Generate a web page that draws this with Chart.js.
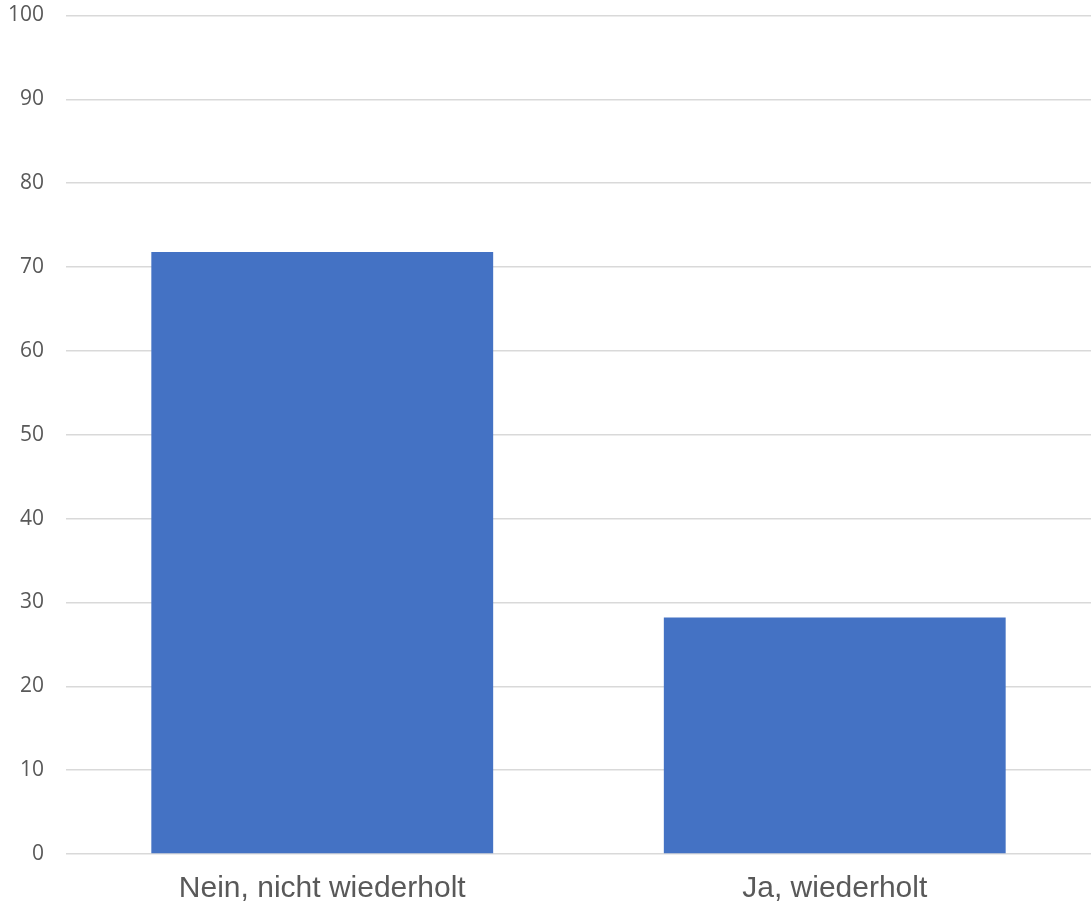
<!DOCTYPE html>
<html>
<head>
<meta charset="utf-8">
<script src="https://cdn.jsdelivr.net/npm/chart.js@4"></script>
<style>
  html, body { margin: 0; padding: 0; background: #ffffff; }
  #wrap { width: 1091px; height: 905px; }
</style>
</head>
<body>
<div id="wrap"><canvas id="c" width="1091" height="905"></canvas></div>
<script>
// Survey answers: was it repeated?
const categories = ['Nein, nicht wiederholt', 'Ja, wiederholt'];
const shares = [71.8, 28.2];
const yTicks = [0, 10, 20, 30, 40, 50, 60, 70, 80, 90, 100];

const ctx = document.getElementById('c').getContext('2d');
new Chart(ctx, {
  type: 'bar',
  data: {
    labels: categories,
    datasets: [{
      data: shares,
      backgroundColor: '#4472c4',
      borderWidth: 0,
      categoryPercentage: 1,
      barPercentage: 0.667
    }]
  },
  options: {
    responsive: false,
    animation: false,
    layout: { padding: { top: 15.5, right: 0, bottom: 0, left: 0 } },
    plugins: {
      legend: { display: false },
      tooltip: { enabled: false }
    },
    scales: {
      x: {
        grid: { display: false, drawTicks: false },
        border: { display: false },
        ticks: {
          color: '#595959',
          padding: 17,
          font: { family: '"Liberation Sans", Arial, sans-serif', size: 30 },
          maxRotation: 0
        },
        afterFit: (s) => { s.height = 51; s.paddingLeft = 0; s.paddingRight = 0; }
      },
      y: {
        min: 0,
        max: 100,
        afterBuildTicks: (s) => { s.ticks = yTicks.map(v => ({ value: v })); },
        grid: { color: '#d9d9d9', lineWidth: 1.5, drawTicks: false },
        border: { display: false },
        ticks: {
          color: '#595959',
          padding: 22,
          font: { family: '"Open Sans", "Noto Sans", sans-serif', size: 21 }
        },
        afterFit: (s) => { s.width = 66; s.paddingTop = 0; s.paddingBottom = 0; }
      }
    }
  }
});
</script>
</body>
</html>
